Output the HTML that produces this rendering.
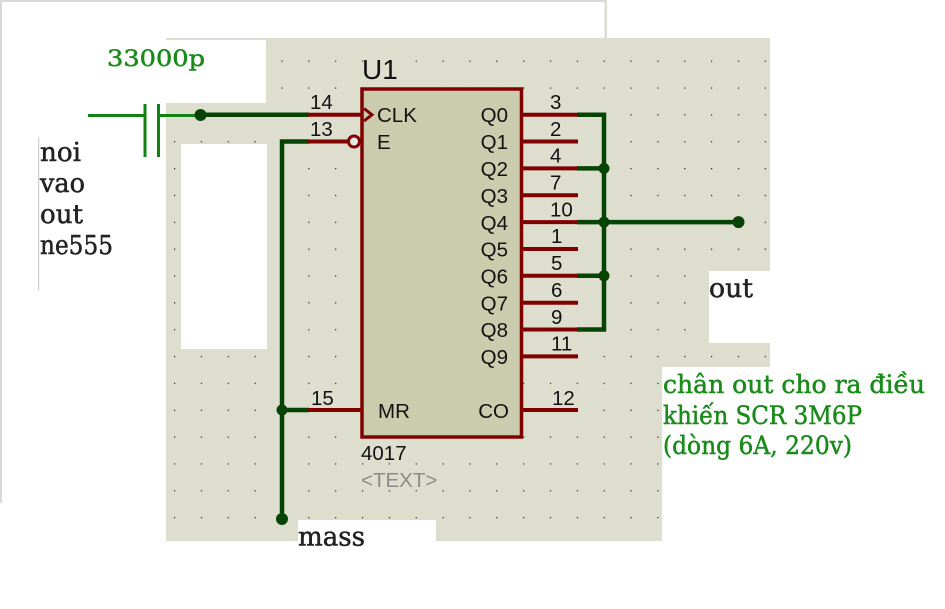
<!DOCTYPE html>
<html>
<head>
<meta charset="utf-8">
<style>
  html, body { margin:0; padding:0; background:#fff; }
  body { width:945px; height:609px; overflow:hidden; }
  svg { display:block; }
  .a { font-family:"Liberation Sans", Arial, sans-serif; font-size:20.5px; fill:#111; }
  .s { font-family:"DejaVu Serif", "Liberation Serif", serif; }
</style>
</head>
<body>
<svg width="945" height="609" viewBox="0 0 945 609" xmlns="http://www.w3.org/2000/svg">
  <defs>
    <pattern id="grid" patternUnits="userSpaceOnUse" x="174" y="60.6" width="26.85" height="26.85">
      <rect x="0" y="0" width="1.2" height="1.2" fill="#222"/>
    </pattern>
  </defs>

  <!-- outer frame lines -->
  <rect x="0" y="0" width="607" height="2" fill="#d9d9d9"/>
  <rect x="0" y="0" width="2" height="503" fill="#d9d9d9"/>
  <rect x="604.5" y="0" width="2.5" height="39" fill="#dcdcd2"/>
  <rect x="38" y="137" width="1.2" height="153" fill="#cfcfcf"/>

  <!-- schematic gray background -->
  <rect x="166" y="38" width="604" height="503" fill="#dedece"/>
  <rect x="166" y="38" width="604" height="503" fill="url(#grid)"/>

  <!-- white cutouts -->
  <rect x="166" y="40" width="100" height="63" fill="#fff"/>
  <rect x="181" y="144" width="86" height="205" fill="#fff"/>
  <rect x="709" y="271" width="61.5" height="72" fill="#fff"/>
  <rect x="662" y="367" width="108.5" height="175" fill="#fff"/>
  <rect x="298" y="520" width="138" height="22" fill="#fff"/>

  <!-- capacitor -->
  <g stroke="#128312" stroke-width="3" fill="none">
    <line x1="88" y1="115.5" x2="145" y2="115.5"/>
    <line x1="145" y1="104" x2="145" y2="157"/>
    <line x1="158.5" y1="104" x2="158.5" y2="157"/>
    <line x1="158.5" y1="115.5" x2="200" y2="115.5"/>
  </g>

  <!-- dark green wires -->
  <g stroke="#064406" stroke-width="4.5" fill="none" stroke-linejoin="miter">
    <line x1="200" y1="114.7" x2="309" y2="114.7"/>
    <polyline points="309,141.5 282,141.5 282,519"/>
    <line x1="282" y1="410" x2="309" y2="410"/>
    <polyline points="577,114.7 604,114.7 604,329.5 577,329.5"/>
    <line x1="577" y1="168.4" x2="604" y2="168.4"/>
    <line x1="577" y1="222.1" x2="738.5" y2="222.1"/>
    <line x1="577" y1="275.8" x2="604" y2="275.8"/>
  </g>
  <g fill="#064406">
    <circle cx="200.5" cy="115" r="6"/>
    <circle cx="282" cy="410" r="5.5"/>
    <circle cx="282" cy="519" r="6"/>
    <circle cx="604" cy="168.4" r="5.5"/>
    <circle cx="604" cy="222.1" r="5.5"/>
    <circle cx="604" cy="275.8" r="5.5"/>
    <circle cx="738.5" cy="222.1" r="6"/>
  </g>

  <!-- red pins -->
  <g stroke="#800000" stroke-width="4" fill="none">
    <line x1="308" y1="114.7" x2="362" y2="114.7"/>
    <line x1="308" y1="141.5" x2="348" y2="141.5"/>
    <line x1="308" y1="410" x2="362" y2="410"/>
    <line x1="522" y1="114.7" x2="578" y2="114.7"/>
    <line x1="522" y1="141.5" x2="578" y2="141.5"/>
    <line x1="522" y1="168.4" x2="578" y2="168.4"/>
    <line x1="522" y1="195.2" x2="578" y2="195.2"/>
    <line x1="522" y1="222.1" x2="578" y2="222.1"/>
    <line x1="522" y1="249" x2="578" y2="249"/>
    <line x1="522" y1="275.8" x2="578" y2="275.8"/>
    <line x1="522" y1="302.7" x2="578" y2="302.7"/>
    <line x1="522" y1="329.5" x2="578" y2="329.5"/>
    <line x1="522" y1="356.4" x2="578" y2="356.4"/>
    <line x1="522" y1="410" x2="578" y2="410"/>
  </g>

  <!-- chip body -->
  <rect x="362" y="89" width="159.5" height="348" fill="#cbcbad" stroke="#800000" stroke-width="3.5"/>
  <polyline points="364,108.5 372,114.7 364,121" fill="none" stroke="#800000" stroke-width="3"/>
  <circle cx="354" cy="141.5" r="5.5" fill="#e8e8e0" stroke="#800000" stroke-width="3"/>

  <!-- chip text -->
  <text x="362" y="79" class="a" style="font-size:28px">U1</text>
  <text x="377" y="122" class="a">CLK</text>
  <text x="377" y="149" class="a">E</text>
  <text x="378" y="418" class="a">MR</text>
  <g class="a" text-anchor="end">
    <text x="508" y="122">Q0</text>
    <text x="508" y="149">Q1</text>
    <text x="508" y="176">Q2</text>
    <text x="508" y="203">Q3</text>
    <text x="508" y="230">Q4</text>
    <text x="508" y="256.5">Q5</text>
    <text x="508" y="283.5">Q6</text>
    <text x="508" y="310.5">Q7</text>
    <text x="508" y="337">Q8</text>
    <text x="508" y="364">Q9</text>
    <text x="509" y="418">CO</text>
  </g>
  <!-- pin numbers -->
  <g class="a">
    <text x="310" y="109">14</text>
    <text x="310" y="136">13</text>
    <text x="311" y="405">15</text>
    <text x="550" y="109">3</text>
    <text x="550" y="136">2</text>
    <text x="550" y="162.5">4</text>
    <text x="550" y="189.5">7</text>
    <text x="550" y="216.5">10</text>
    <text x="551" y="243">1</text>
    <text x="551" y="270">5</text>
    <text x="551" y="297">6</text>
    <text x="551" y="324">9</text>
    <text x="551" y="350.5">11</text>
    <text x="552" y="405">12</text>
  </g>
  <text x="361" y="460" class="a">4017</text>
  <text x="361" y="487" class="a" style="fill:#8a8a8a">&lt;TEXT&gt;</text>

  <!-- serif labels -->
  <g class="s" fill="#1a8a1a" stroke="#1a8a1a" stroke-width="0.5" font-size="22">
    <text x="107" y="66" textLength="98" lengthAdjust="spacingAndGlyphs">33000p</text>
  </g>
  <g class="s" fill="#222" stroke="#222" stroke-width="0.5" font-size="26">
    <text x="40" y="161" textLength="41" lengthAdjust="spacingAndGlyphs">noi</text>
    <text x="40" y="192" textLength="45" lengthAdjust="spacingAndGlyphs">vao</text>
    <text x="40" y="223" textLength="43" lengthAdjust="spacingAndGlyphs">out</text>
    <text x="40" y="254" textLength="73" lengthAdjust="spacingAndGlyphs">ne555</text>
    <text x="709" y="297" textLength="44" lengthAdjust="spacingAndGlyphs">out</text>
    <text x="298" y="545.5" textLength="67" lengthAdjust="spacingAndGlyphs">mass</text>
  </g>
  <g class="s" fill="#1a8a1a" stroke="#1a8a1a" stroke-width="0.5" font-size="25">
    <text x="663" y="393" textLength="262" lengthAdjust="spacingAndGlyphs">chân out cho ra điều</text>
    <text x="663" y="424" textLength="199" lengthAdjust="spacingAndGlyphs">khiến SCR 3M6P</text>
    <text x="663" y="454" textLength="189" lengthAdjust="spacingAndGlyphs">(dòng 6A, 220v)</text>
  </g>
</svg>
</body>
</html>
